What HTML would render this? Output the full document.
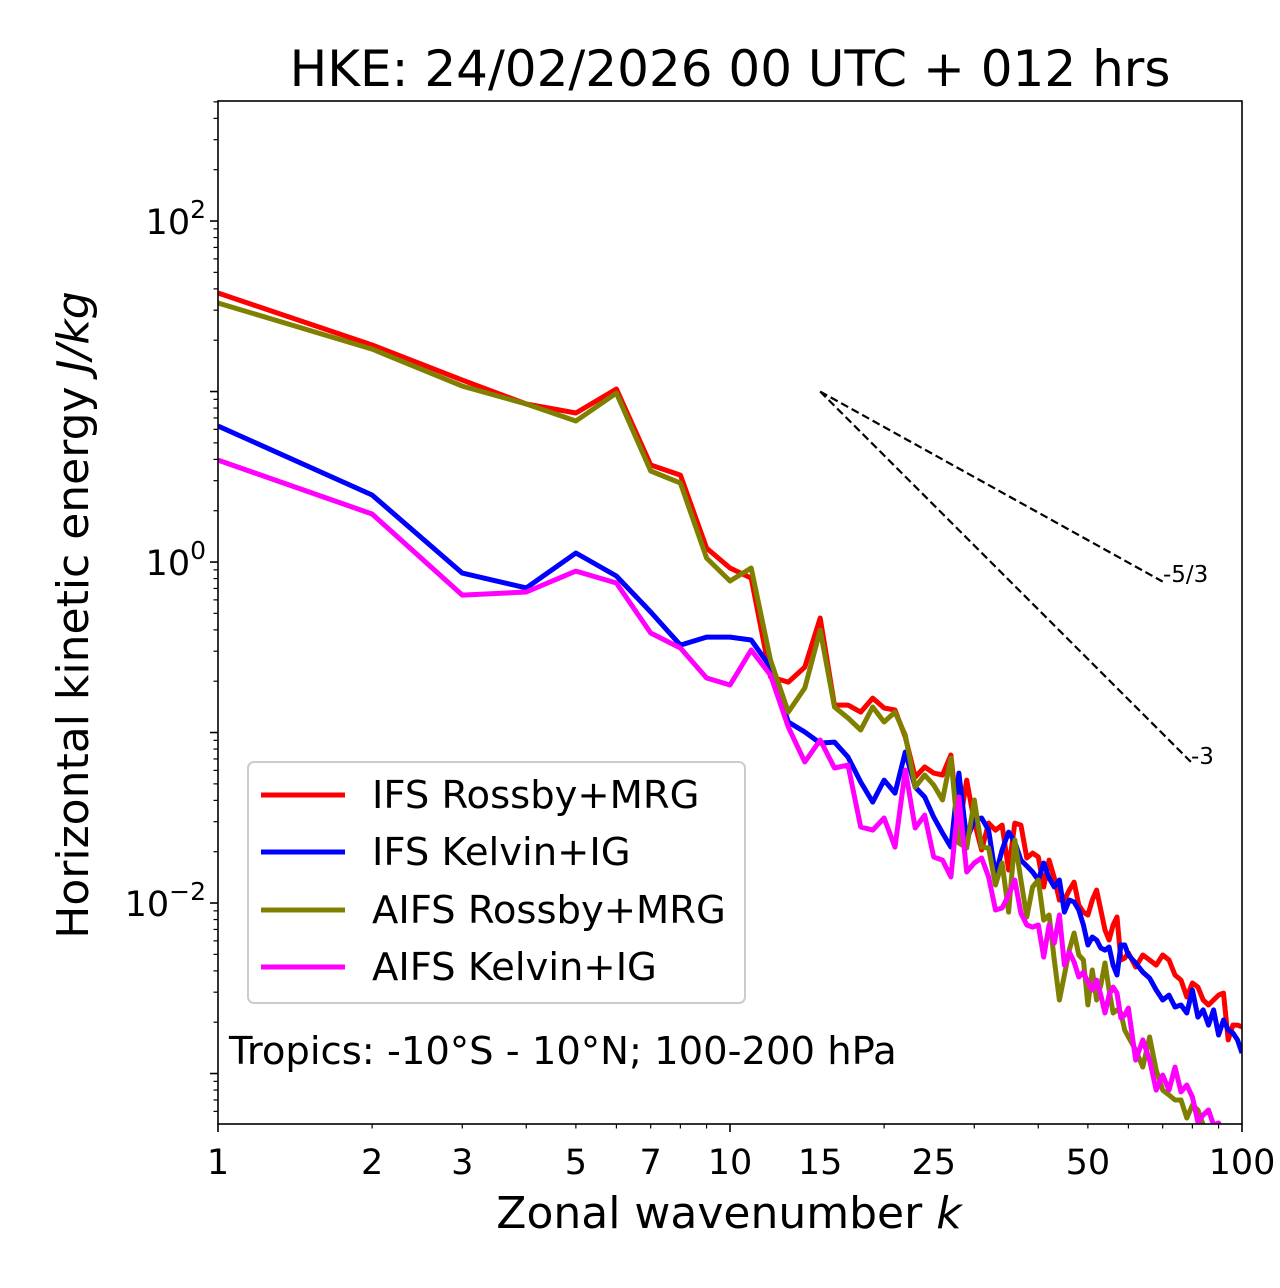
<!DOCTYPE html>
<html><head><meta charset="utf-8"><style>
html,body{margin:0;padding:0;background:#fff;}
svg{display:block;font-family:"DejaVu Sans","Liberation Sans",sans-serif;}
</style></head><body>
<svg id="chart" width="1280" height="1288" viewBox="0 0 1280 1288" xmlns="http://www.w3.org/2000/svg">
<rect width="1280" height="1288" fill="#fff"/>
<text x="730" y="86" font-size="50" text-anchor="middle">HKE: 24/02/2026 00 UTC + 012 hrs</text>
<defs><clipPath id="plotclip"><rect x="218" y="101" width="1024" height="1023"/></clipPath></defs>
<g id="ticks"></g>
<g id="series" clip-path="url(#plotclip)"></g>
<rect x="218" y="101" width="1024" height="1023" fill="none" stroke="#000" stroke-width="1.6"/>
<text x="729" y="1228" font-size="44" text-anchor="middle">Zonal wavenumber <tspan font-style="italic">k</tspan></text>
<text transform="translate(88,615) rotate(-90)" font-size="44" text-anchor="middle">Horizontal kinetic energy <tspan font-style="italic">J/kg</tspan></text>
<text x="1163" y="582" font-size="23">-5/3</text>
<text x="1191" y="764" font-size="23">-3</text>
<g>
<rect x="248" y="762" width="497" height="241" rx="6" fill="#fff" fill-opacity="0.8" stroke="#ccc" stroke-width="2"/>
<line x1="261" y1="795" x2="345" y2="795" stroke="#ff0000" stroke-width="5"/>
<text x="372" y="808" font-size="38.5">IFS Rossby+MRG</text>
<line x1="261" y1="852" x2="345" y2="852" stroke="#0000ff" stroke-width="5"/>
<text x="372" y="865" font-size="38.5">IFS Kelvin+IG</text>
<line x1="261" y1="910" x2="345" y2="910" stroke="#808000" stroke-width="5"/>
<text x="372" y="923" font-size="38.5">AIFS Rossby+MRG</text>
<line x1="261" y1="967" x2="345" y2="967" stroke="#ff00ff" stroke-width="5"/>
<text x="372" y="980" font-size="38.5">AIFS Kelvin+IG</text>
</g>
<text x="229" y="1064" font-size="38.5">Tropics: -10°S - 10°N; 100-200 hPa</text>
</svg>
<script>
// wavenumbers
const wavenumbers = [1,2,3,4,5,6,7,8,9,10,11,12,13,14,15,16,17,18,19,20,21,22,23,24,25,26,27,28,29,30,31,32,33,34,35,36,37,38,39,40,41,42,43,44,45,46,47,48,49,50,51,52,53,54,55,56,57,58,59,60,62,64,66,68,70,72,74,76,78,80,82,84,86,88,90,92,94,96,98,100];
// log10 of energy (J/kg) per wavenumber
const ifsRossbyLog10 = [1.578,1.273,1.067,0.927,0.874,1.015,0.569,0.510,0.082,-0.035,-0.094,-0.674,-0.704,-0.616,-0.328,-0.839,-0.839,-0.880,-0.798,-0.856,-0.868,-1.026,-1.261,-1.202,-1.238,-1.249,-1.132,-1.572,-1.279,-1.525,-1.689,-1.531,-1.572,-1.543,-1.806,-1.531,-1.543,-1.736,-1.707,-1.730,-1.906,-1.748,-1.853,-1.982,-1.982,-1.924,-1.877,-2.012,-2.053,-2.070,-1.982,-1.924,-2.041,-2.158,-2.217,-2.129,-2.082,-2.334,-2.323,-2.293,-2.375,-2.305,-2.334,-2.364,-2.305,-2.334,-2.422,-2.452,-2.551,-2.469,-2.493,-2.569,-2.598,-2.569,-2.540,-2.528,-2.803,-2.716,-2.716,-2.727];
const ifsKelvinLog10 = [0.798,0.393,-0.065,-0.152,0.053,-0.082,-0.293,-0.487,-0.440,-0.440,-0.457,-0.616,-0.938,-0.997,-1.062,-1.056,-1.144,-1.290,-1.408,-1.279,-1.355,-1.114,-1.320,-1.378,-1.496,-1.589,-1.672,-1.238,-1.630,-1.513,-1.501,-1.572,-1.836,-1.689,-1.584,-1.642,-1.748,-1.783,-1.818,-1.865,-1.765,-1.853,-1.906,-1.865,-2.053,-1.982,-1.994,-2.041,-2.129,-2.246,-2.199,-2.217,-2.264,-2.276,-2.258,-2.364,-2.422,-2.246,-2.246,-2.305,-2.352,-2.405,-2.440,-2.510,-2.569,-2.540,-2.610,-2.598,-2.645,-2.510,-2.669,-2.627,-2.716,-2.627,-2.774,-2.686,-2.745,-2.762,-2.803,-2.880];
const aifsRossbyLog10 = [1.519,1.249,1.032,0.927,0.827,0.991,0.534,0.463,0.023,-0.111,-0.035,-0.575,-0.880,-0.739,-0.399,-0.850,-0.915,-0.985,-0.850,-0.938,-0.880,-1.015,-1.320,-1.249,-1.308,-1.396,-1.150,-1.648,-1.677,-1.396,-1.672,-1.677,-1.894,-1.765,-2.053,-1.630,-1.865,-2.082,-1.906,-1.865,-2.100,-2.070,-2.334,-2.569,-2.422,-2.276,-2.176,-2.305,-2.334,-2.598,-2.393,-2.569,-2.481,-2.352,-2.510,-2.645,-2.627,-2.645,-2.745,-2.786,-2.862,-2.962,-2.786,-2.979,-3.097,-3.126,-3.155,-3.155,-3.261,-3.185,-3.214,-3.302,-3.360,-3.330,-3.390];
const aifsKelvinLog10 = [0.598,0.282,-0.194,-0.176,-0.053,-0.123,-0.416,-0.504,-0.680,-0.721,-0.516,-0.663,-0.968,-1.173,-1.044,-1.208,-1.191,-1.554,-1.572,-1.501,-1.672,-1.220,-1.560,-1.484,-1.730,-1.748,-1.847,-1.378,-1.818,-1.765,-1.736,-1.847,-2.041,-2.029,-1.953,-1.865,-2.059,-2.129,-2.141,-2.129,-2.317,-2.129,-2.235,-2.070,-2.364,-2.287,-2.346,-2.434,-2.405,-2.463,-2.510,-2.452,-2.540,-2.645,-2.540,-2.493,-2.528,-2.674,-2.657,-2.616,-2.921,-2.803,-2.921,-3.097,-3.009,-3.097,-2.962,-3.108,-3.067,-3.138,-3.284,-3.243,-3.214,-3.302,-3.290,-3.360];
const xTickValues = [1,2,3,5,7,10,15,25,50,100];
const xTickLabels = ["1","2","3","5","7","10","15","25","50","100"];
const yLabelExponents = [2,0,-2];
const refStartK = 15, refEndK53 = 70, refEndK3 = 80, refAmplitude = 10;

const X0=218,X1=1242,Y0=101,Y1=1124;
const XMIN=0, XMAX=2, YMIN=-3.296, YMAX=2.704;
function xs(k){return X0+(Math.log10(k)-XMIN)/(XMAX-XMIN)*(X1-X0);}
function ysLog(l){return Y1-(l-YMIN)/(YMAX-YMIN)*(Y1-Y0);}
function ys(v){return ysLog(Math.log10(v));}
const NS="http://www.w3.org/2000/svg";
const ticks=document.getElementById('ticks');
const series=document.getElementById('series');
function mk(tag,attrs,parent){const e=document.createElementNS(NS,tag);for(const k in attrs)e.setAttribute(k,attrs[k]);parent.appendChild(e);return e;}

for(let d=0;d<2;d++){for(let m=1;m<=10;m++){const k=m*Math.pow(10,d);if(m===10&&d===0)continue;const major=(m===1||m===10);const x=xs(k);
 const t=mk('line',{x1:x,x2:x,y1:Y1,y2:Y1+(major?8:4.5),stroke:'#000','stroke-width':major?1.6:1.2},ticks);
 
 }}
xTickValues.forEach((v,i)=>{const t=mk('text',{x:xs(v),y:1174,'font-size':35,'text-anchor':'middle'},ticks);t.textContent=xTickLabels[i];
 
 });
for(let e=-4;e<=2;e++){for(let m=1;m<=9;m++){const l=e+Math.log10(m);if(l<YMIN||l>YMAX)continue;const y=ysLog(l);const major=m===1;
 const t=mk('line',{x1:X0-(major?8:4.5),x2:X0,y1:y,y2:y,stroke:'#000','stroke-width':major?1.6:1.2},ticks);
 
 }}
yLabelExponents.forEach(e=>{const y=ysLog(e);const t=mk('text',{x:X0-12,y:y+13,'font-size':35,'text-anchor':'end'},ticks);
 t.textContent='10';const s=mk('tspan',{dy:-16,'font-size':25},t);s.textContent=(e<0?'\u2212':'')+Math.abs(e);
 
 });

function refLine(kEnd,slope,name){const v0=refAmplitude,v1=refAmplitude*Math.pow(kEnd/refStartK,slope);
 const l=mk('line',{x1:xs(refStartK),y1:ys(v0),x2:xs(kEnd),y2:ys(v1),stroke:'#000','stroke-width':2.2,'stroke-dasharray':'8,4'},series);
 
 }
refLine(refEndK53,-5/3,'reference-slope-five-thirds');
refLine(refEndK3,-3,'reference-slope-minus-three');

function drawSeries(vals,color,name){const pts=vals.map((l,i)=>xs(wavenumbers[i]).toFixed(1)+','+ysLog(l).toFixed(1)).join(' ');
 const p=mk('polyline',{points:pts,fill:'none',stroke:color,'stroke-width':5,'stroke-linejoin':'round'},series);
 
 }
drawSeries(ifsRossbyLog10,'#ff0000','ifs-rossby-mrg-line');
drawSeries(ifsKelvinLog10,'#0000ff','ifs-kelvin-ig-line');
drawSeries(aifsRossbyLog10,'#808000','aifs-rossby-mrg-line');
drawSeries(aifsKelvinLog10,'#ff00ff','aifs-kelvin-ig-line');
</script>
</body></html>
